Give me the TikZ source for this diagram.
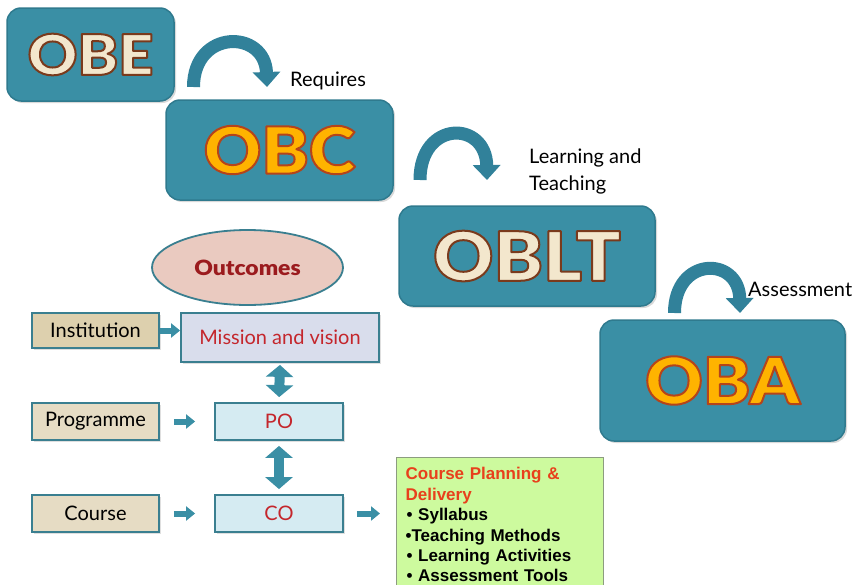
\documentclass[tikz,border=0pt]{standalone}
\usepackage{fontspec}
\setmainfont{Lato}
\newfontfamily\bigfont[FakeStretch=1.09]{Lato Black}
\newfontfamily\arialfont{Liberation Sans}
\usetikzlibrary{arrows.meta,shapes.geometric,shadows}

\definecolor{tealbox}{HTML}{3A8FA5}
\definecolor{tealedge}{HTML}{2F7A8E}
\definecolor{curlcol}{HTML}{31819A}
\definecolor{cream}{HTML}{F3E7CD}
\definecolor{gold}{HTML}{FFB300}
\definecolor{boxedge}{HTML}{3A7F90}
\definecolor{tanfill}{HTML}{E6DCC4}
\definecolor{tandark}{HTML}{DDD0AE}
\definecolor{lavfill}{HTML}{D9DDEC}
\definecolor{icefill}{HTML}{D5EBF2}
\definecolor{redtext}{HTML}{C4262C}
\definecolor{pinkfill}{HTML}{EACAC0}
\definecolor{outred}{HTML}{9B1B1E}
\definecolor{limefill}{HTML}{CDFA9E}
\definecolor{limeedge}{HTML}{8C9C80}
\definecolor{planred}{HTML}{E8401C}

% outlined letters: fill colour, stroke colour (rgb in 0..1)
\newcommand{\creamword}[1]{\textcolor{cream}{\special{pdf:code 2 Tr 2 w 1 j 0.478 0.227 0.110 RG}#1\special{pdf:code 0 Tr}}}
\newcommand{\goldword}[1]{\textcolor{gold}{\special{pdf:code 2 Tr 2 w 1 j 0.710 0.267 0.102 RG}#1\special{pdf:code 0 Tr}}}

\begin{document}
\begin{tikzpicture}[x=1pt,y=-1pt]
    \tikzstyle{every node}=[inner sep=0pt]
    \tikzstyle{bigbox}=[draw=tealedge, line width=1.5pt, fill=tealbox, rounded corners=14pt,
        drop shadow={shadow xshift=2pt, shadow yshift=-2pt, opacity=0.3}]
    \tikzstyle{smallbox}=[draw=boxedge, line width=1.8pt, font=\fontsize{20}{24}\selectfont,
        drop shadow={shadow xshift=1.5pt, shadow yshift=-1.5pt, opacity=0.25}]
    \tikzstyle{curl}=[draw=curlcol, line width=13pt, -{Triangle[width=27pt,length=15pt]}, curlcol]
    \tikzstyle{link}=[draw=tealbox, line width=6pt, -{Triangle[width=14pt,length=9pt]}, tealbox]
    \tikzstyle{both}=[draw=tealbox, line width=10pt, {Triangle[width=27pt,length=12pt]}-{Triangle[width=27pt,length=12pt]}, tealbox]
    \tikzstyle{label}=[font=\fontsize{20}{27}\selectfont, anchor=base west, align=left]
    \clip (0,0) rectangle (857,584);

    % main chain
    \node[bigbox, minimum width=167pt, minimum height=93pt, font=\bigfont\fontsize{56}{60}\selectfont] (obe) at (90.5,54.5) {\creamword{OBE}};
    \node[bigbox, minimum width=227pt, minimum height=100pt, font=\bigfont\fontsize{65}{70}\selectfont] (obc) at (279.5,150) {\goldword{OBC}};
    \node[bigbox, minimum width=256pt, minimum height=100pt, font=\bigfont\fontsize{68}{72}\selectfont] (oblt) at (527,256) {\creamword{OBLT}};
    \node[bigbox, minimum width=245pt, minimum height=121pt, font=\bigfont\fontsize{65}{70}\selectfont] (oba) at (722.5,380.5) {\goldword{OBA}};

    \coordinate (req1) at (193.5,87);  \coordinate (req2) at (267,87);
    \coordinate (lt1) at (420,180);    \coordinate (lt2) at (487,180);
    \coordinate (as1) at (674.5,313);  \coordinate (as2) at (740,313);
    \draw[curl] (req1) .. controls (193.5,29) and (265,29) .. (req2);
    \draw[curl] (lt1) .. controls (420,120) and (486,120) .. (lt2);
    \draw[curl] (as1) .. controls (674.5,256) and (739,256) .. (as2);

    \node[label] (requires) at (290,86) {Requires};
    \node[label] (learning) at (529,190) {Learning and\\Teaching};
    \node[label] (assess) at (748,296) {Assessment};

    % outcomes hierarchy
    \node[ellipse, draw=boxedge, line width=1.8pt, fill=pinkfill, minimum width=191pt, minimum height=75pt,
        font=\bigfont\fontsize{21}{26}\selectfont, text=outred] (outcomes) at (247.5,267.5) {Outcomes};
    \node[smallbox, fill=tandark, minimum width=127pt, minimum height=35pt] (inst) at (95.5,330.5) {Institution};
    \node[smallbox, fill=lavfill, minimum width=198pt, minimum height=49pt, text=redtext] (miss) at (280,337.5) {Mission and vision};
    \node[smallbox, fill=tanfill, minimum width=127pt, minimum height=37pt] (prog) at (95.5,421.5) {Programme};
    \node[smallbox, fill=icefill, minimum width=128pt, minimum height=37pt, text=redtext] (po) at (279,421.5) {PO};
    \node[smallbox, fill=tanfill, minimum width=127pt, minimum height=37pt] (course) at (95.5,513.5) {Course};
    \node[smallbox, fill=icefill, minimum width=128pt, minimum height=37pt, text=redtext] (co) at (279,513.5) {CO};
    \node[draw=limeedge, line width=1.2pt, fill=limefill, anchor=north west, inner xsep=9pt, inner ysep=10pt,
        text width=189pt, align=left, font=\arialfont\bfseries\fontsize{17}{20.4}\selectfont] (plan) at (396,457)
        {\textcolor{planred}{Course Planning \&\\Delivery}\\
         \hspace*{1pt}\textbullet\ Syllabus\\
         \textbullet Teaching Methods\\
         \hspace*{1pt}\textbullet\ Learning Activities\\
         \hspace*{1pt}\textbullet\ Assessment Tools};

    \draw[link] (inst.east) -- (inst.east -| miss.west);
    \draw[link, shorten <=14pt, shorten >=19pt] (prog) -- (po);
    \draw[link, shorten <=14pt, shorten >=19pt] (course) -- (co);
    \draw[link, shorten <=13pt, shorten >=16pt] (co.east) -- (co.east -| plan.west);
    \draw[both, shorten <=2pt, shorten >=5pt] (miss.south) -- (po.north);
    \draw[both, shorten <=5pt, shorten >=5pt] (po.south) -- (co.north);
\end{tikzpicture}
\end{document}
